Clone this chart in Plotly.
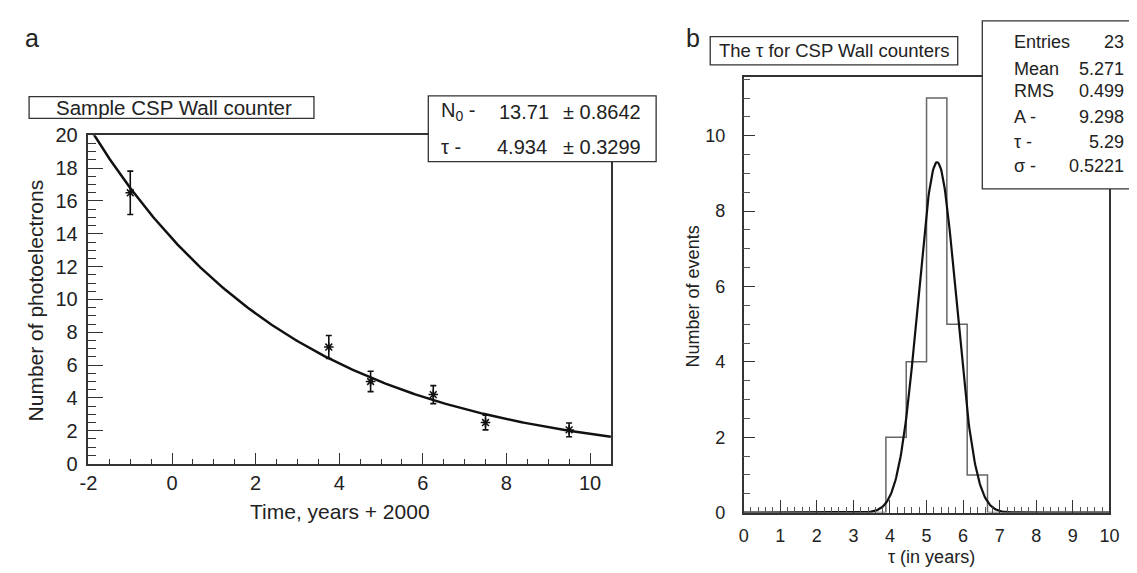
import numpy as np
import plotly.graph_objects as go

W, H = 1137, 573
FONT = "Liberation Sans, Arial, sans-serif"
TXT = "#222222"
AX = "#333333"

# ---- Panel a data ----
time_pts = [-1.0, 3.75, 4.75, 6.25, 7.5, 9.5]
npe_pts = [16.5, 7.1, 5.0, 4.2, 2.5, 2.05]
npe_err = [1.32, 0.7, 0.62, 0.55, 0.45, 0.42]
fit_N0 = 13.71
fit_N0_err = 0.8642
fit_tau = 4.934
fit_tau_err = 0.3299
time_range = [-2.0, 10.5]
time_ticks = [-2, 0, 2, 4, 6, 8, 10]
time_ticklabels = ["-2", "0", "2", "4", "6", "8", "10"]
npe_ticks = [0, 2, 4, 6, 8, 10, 12, 14, 16, 18, 20]

# ---- Panel b data ----
hist_lo, hist_hi, hist_nbins = 0.0, 10.0, 18
hist_counts = [0, 0, 0, 0, 0, 0, 0, 2, 4, 11, 5, 1, 0, 0, 0, 0, 0, 0]
stat_entries = 23
stat_mean = 5.271
stat_rms = 0.499
gaus_A = 9.298
gaus_mu = 5.29
gaus_sigma = 0.5221
tau_ticks = [0, 1, 2, 3, 4, 5, 6, 7, 8, 9, 10]
events_ticks = [0, 2, 4, 6, 8, 10]


def px(x):
    return x / W


def py(y):
    return 1 - y / H


fig = go.Figure()

# Panel a: fit curve
tt = np.linspace(time_range[0], time_range[1], 300)
fig.add_trace(go.Scatter(
    x=tt, y=fit_N0 * np.exp(-tt / fit_tau), mode="lines",
    line=dict(color="#111111", width=2.5), xaxis="x", yaxis="y",
    hoverinfo="skip", cliponaxis=True))
# Panel a: data points
fig.add_trace(go.Scatter(
    x=time_pts, y=npe_pts, mode="markers",
    marker=dict(symbol="asterisk-open", size=8, color="#111111",
                line=dict(color="#111111", width=1.5)),
    error_y=dict(type="data", array=npe_err, visible=True,
                 color="#111111", thickness=1.6, width=3),
    xaxis="x", yaxis="y"))

# Panel b: histogram outline
edges = np.linspace(hist_lo, hist_hi, hist_nbins + 1)
hx = list(edges[:-1]) + [edges[-1]]
hy = list(hist_counts) + [0]
fig.add_trace(go.Scatter(
    x=hx, y=hy, mode="lines", line=dict(color="#666666", width=1.5, shape="hv"),
    xaxis="x2", yaxis="y2", hoverinfo="skip"))
# Panel b: gaussian fit
gx = np.linspace(hist_lo, hist_hi, 500)
fig.add_trace(go.Scatter(
    x=gx, y=gaus_A * np.exp(-0.5 * ((gx - gaus_mu) / gaus_sigma) ** 2),
    mode="lines", line=dict(color="#111111", width=2.2),
    xaxis="x2", yaxis="y2", hoverinfo="skip"))

axis_common = dict(showgrid=False, zeroline=False, showline=True, linecolor=AX,
                   linewidth=1.5, mirror=True, ticks="inside", tickcolor=AX)

fig.update_layout(
    width=W, height=H, autosize=False,
    margin=dict(l=0, r=0, t=0, b=0),
    paper_bgcolor="white", plot_bgcolor="white",
    showlegend=False,
    font=dict(family=FONT, color=TXT),
    xaxis=dict(domain=[px(72.7), px(604)], range=time_range, anchor="y",
               tickmode="array", tickvals=time_ticks, ticktext=time_ticklabels,
               ticklen=11, tickwidth=1.3,
               minor=dict(dtick=0.5, tick0=-2, ticklen=5, tickcolor=AX, ticks="inside"),
               ticklabelstandoff=1,
               tickfont=dict(family=FONT, color=TXT, size=20), **axis_common),
    yaxis=dict(domain=[py(462.3), py(121)], range=[0, 20], anchor="x",
               tickmode="array", tickvals=npe_ticks, ticklen=15, tickwidth=1.3,
               minor=dict(dtick=0.5, tick0=0, ticklen=8, tickcolor=AX, ticks="inside"),
               ticklabelstandoff=5,
               tickfont=dict(family=FONT, color=TXT, size=20), **axis_common),
    xaxis2=dict(domain=[px(739), px(1111)], range=[hist_lo, hist_hi], anchor="y2",
                tickmode="array", tickvals=tau_ticks, ticklen=13, tickwidth=1.2,
                minor=dict(dtick=0.2, tick0=0, ticklen=6, tickcolor="#555555", ticks="inside"),
                ticklabelstandoff=6,
                tickfont=dict(family=FONT, color=TXT, size=18), **axis_common),
    yaxis2=dict(domain=[py(513.3), py(60.7)], range=[0, 11.55], anchor="x2",
                tickmode="array", tickvals=events_ticks, ticklen=12, tickwidth=1.2,
                minor=dict(dtick=0.5, tick0=0, ticklen=7, tickcolor="#555555", ticks="inside"),
                ticklabelstandoff=13,
                tickfont=dict(family=FONT, color=TXT, size=18), **axis_common),
)

shapes = []
annots = []


def box(x0, y0, x1, y1):
    shapes.append(dict(type="rect", xref="paper", yref="paper",
                       x0=px(x0), x1=px(x1), y0=py(y1), y1=py(y0),
                       line=dict(color=AX, width=1.3), fillcolor="white",
                       layer="above"))


def text(x, y, s, size, xanchor="center", angle=0):
    annots.append(dict(x=px(x), y=py(y), xref="paper", yref="paper", text=s,
                       showarrow=False, xanchor=xanchor, yanchor="middle",
                       textangle=angle,
                       font=dict(family=FONT, size=size, color=TXT)))


# Panel labels
text(15, 20, "a", 25)
text(687, 20, "b", 25)

# Panel a boxes
box(12.3, 80.7, 302, 103.3)
text(160, 92, "Sample CSP Wall counter", 20.5)
box(418.3, 80, 650, 148.3)
text(429, 96.7, "N<sub>0</sub> -", 20, "left")
text(543, 96.7, f"{fit_N0:.2f}", 20, "right")
text(553, 96.7, f"± {fit_N0_err:.4f}", 20, "left")
text(429, 133.3, "τ -", 20, "left")
text(541, 133.3, f"{fit_tau:.3f}", 20, "right")
text(553, 133.3, f"± {fit_tau_err:.4f}", 20, "left")

# Panel a axis titles
text(19, 293, "Number of photoelectrons", 21, angle=-90)
text(328, 512, "Time, years + 2000", 21)

# Panel b boxes
box(705, 18.3, 956.7, 47.7)
text(831, 33, "The τ for CSP Wall counters", 18.5)
box(981.7, 2, 1145, 176.7)
rows = [("Entries", f"{stat_entries}"), ("Mean", f"{stat_mean:.3f}"),
        ("RMS", f"{stat_rms:.3f}"), ("A -", f"{gaus_A:.3f}"),
        ("τ -", f"{gaus_mu:.2f}"), ("σ -", f"{gaus_sigma:.4f}")]
rows_y = [24, 51.7, 75, 101.7, 128.3, 153.3]
for (lab, val), yy in zip(rows, rows_y):
    text(1011.7, yy, lab, 18, "left")
    text(1128.3, yy, val, 18, "right")

# Panel b axis titles
text(687, 289, "Number of events", 18, angle=-90)
text(930, 560, "τ (in years)", 18)

fig.update_layout(shapes=shapes, annotations=annots)
fig.write_html("out.html")
